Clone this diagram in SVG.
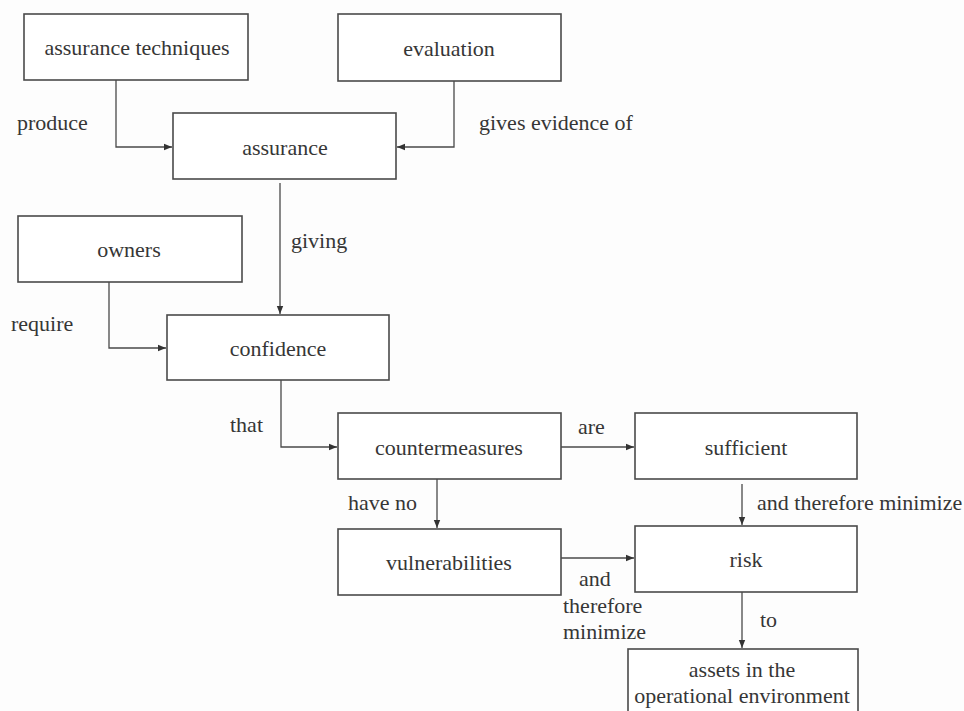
<svg xmlns="http://www.w3.org/2000/svg" width="964" height="711" viewBox="0 0 964 711">
  <defs>
    <marker id="arrow" viewBox="0 0 8 8" refX="8" refY="4" markerWidth="8" markerHeight="8" markerUnits="userSpaceOnUse" orient="auto">
      <path d="M0,0.8 L8,4 L0,7.2 Z" fill="#333"/>
    </marker>
    <style>
      .box { fill: #fff; stroke: #4a4a4a; stroke-width: 1.6; }
      text { font-family: 'Liberation Serif', 'DejaVu Serif', serif; font-size: 22px; fill: #363636; }
      .mid { text-anchor: middle; }
      .edge { fill: none; stroke: #4a4a4a; stroke-width: 1.3; marker-end: url(#arrow); }
    </style>
  </defs>
  <rect width="964" height="711" fill="#fdfdfd"/>

  <!-- connectors and their labels -->
  <g id="connectors">
    <path class="edge" d="M116,80 V147 H172"/>
    <path class="edge" d="M454,81 V147 H397"/>
    <path class="edge" d="M280,183 V314"/>
    <path class="edge" d="M109,282 V348 H166"/>
    <path class="edge" d="M281,380 V447 H337"/>
    <path class="edge" d="M561,447 H634"/>
    <path class="edge" d="M437,479 V528"/>
    <path class="edge" d="M742,484 V525"/>
    <path class="edge" d="M561,558 H634"/>
    <path class="edge" d="M742,592 V648"/>
    <text x="17" y="130">produce</text>
    <text x="479" y="130">gives evidence of</text>
    <text x="291" y="248">giving</text>
    <text x="11" y="331">require</text>
    <text x="230" y="432">that</text>
    <text x="578" y="434">are</text>
    <text x="348" y="510">have no</text>
    <text x="757" y="510">and therefore minimize</text>
    <text x="579" y="586">and</text>
    <text x="563" y="613">therefore</text>
    <text x="563" y="639">minimize</text>
    <text x="760" y="627">to</text>
  </g>

  <!-- nodes -->
  <g id="assurance-techniques">
    <rect class="box" x="24" y="14" width="224" height="66"/>
    <text class="mid" x="137" y="55">assurance techniques</text>
  </g>
  <g id="evaluation">
    <rect class="box" x="338" y="14" width="223" height="67"/>
    <text class="mid" x="449" y="56">evaluation</text>
  </g>
  <g id="assurance">
    <rect class="box" x="173" y="113" width="223" height="66"/>
    <text class="mid" x="285" y="155">assurance</text>
  </g>
  <g id="owners">
    <rect class="box" x="18" y="216" width="224" height="66"/>
    <text class="mid" x="129" y="257">owners</text>
  </g>
  <g id="confidence">
    <rect class="box" x="167" y="315" width="222" height="65"/>
    <text class="mid" x="278" y="356">confidence</text>
  </g>
  <g id="countermeasures">
    <rect class="box" x="338" y="413" width="223" height="66"/>
    <text class="mid" x="449" y="455">countermeasures</text>
  </g>
  <g id="sufficient">
    <rect class="box" x="635" y="413" width="222" height="66"/>
    <text class="mid" x="746" y="455">sufficient</text>
  </g>
  <g id="vulnerabilities">
    <rect class="box" x="338" y="529" width="223" height="66"/>
    <text class="mid" x="449" y="570">vulnerabilities</text>
  </g>
  <g id="risk">
    <rect class="box" x="635" y="526" width="222" height="66"/>
    <text class="mid" x="746" y="567">risk</text>
  </g>
  <g id="assets">
    <rect class="box" x="628" y="649" width="230" height="80"/>
    <text class="mid" x="742" y="677">assets in the</text>
    <text class="mid" x="742" y="703">operational environment</text>
  </g>
</svg>
